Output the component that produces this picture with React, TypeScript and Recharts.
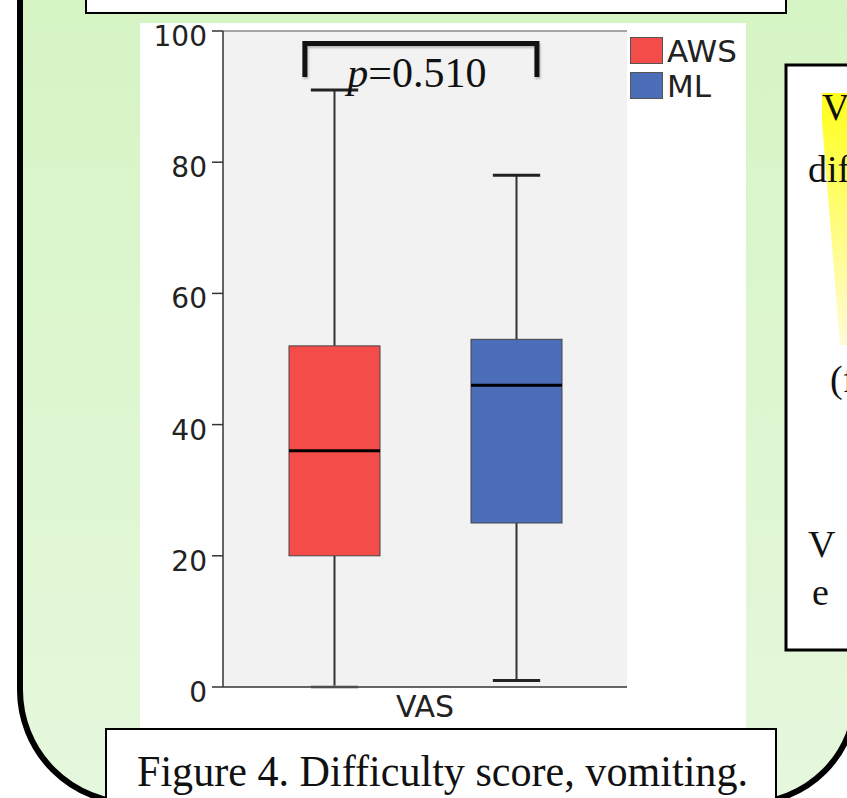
import React from "react";
import {
  ComposedChart,
  Bar,
  XAxis,
  YAxis,
  CartesianGrid,
  Legend,
  ReferenceLine,
} from "recharts";

// box plot statistics, one entry per group
const groups = ["AWS", "ML"];
const mins = [0, 1];
const q1s = [20, 25];
const medians = [36, 46];
const q3s = [52, 53];
const maxs = [91, 78];

const category = "VAS";
const yTicks = [0, 20, 40, 60, 80, 100];
const pValue = "0.510";

// significance bracket heights (VAS units): leg ends and top bar
const bracketLeg = 93;
const bracketTop = 98.1;

const figureCaption = "Figure 4. Difficulty score, vomiting.";
const sideText = ["V", "dif", "(f", "V", "e"];

const COLORS = ["#f44c48", "#4c6db7"];
const SANS = "'DejaVu Sans', Verdana, sans-serif";
const SERIF = "'Liberation Serif', 'Times New Roman', serif";

const data = groups.map((g, i) => ({ name: g, box: [mins[i], maxs[i]] }));

// draws whiskers, box and median from the bar's [min, max] geometry
const BoxShape = (props: any) => {
  const { x, y, width, height } = props;
  let g = groups.indexOf(props.payload?.name);
  if (g < 0) g = props.index ?? 0;
  const lo = mins[g];
  const hi = maxs[g];
  const py = (v: number) => y + (height * (hi - v)) / (hi - lo);
  const cx = x + width / 2;
  const cap = width * 0.26;
  return (
    <g>
      <line x1={cx} x2={cx} y1={py(maxs[g])} y2={py(q3s[g])} stroke="#333" strokeWidth={2} />
      <line x1={cx} x2={cx} y1={py(q1s[g])} y2={py(mins[g])} stroke="#333" strokeWidth={2} />
      <line x1={cx - cap} x2={cx + cap} y1={py(maxs[g])} y2={py(maxs[g])} stroke="#222" strokeWidth={3} />
      <line
        x1={cx - cap}
        x2={cx + cap}
        y1={py(mins[g])}
        y2={py(mins[g])}
        stroke={mins[g] === 0 ? "#9a9a9a" : "#222"}
        strokeWidth={3}
      />
      <rect
        x={x}
        y={py(q3s[g])}
        width={width}
        height={py(q1s[g]) - py(q3s[g])}
        fill={COLORS[g]}
        stroke="#444"
        strokeWidth={1}
      />
      <line x1={x} x2={x + width} y1={py(medians[g])} y2={py(medians[g])} stroke="#000" strokeWidth={3} />
    </g>
  );
};

// bracket between the two groups with the p value under it
const Bracket = (props: any) => {
  const { x1, y1, x2, y2 } = props;
  const span = x2 - x1;
  const left = x1 - span * 0.16;
  const right = x2 + span * 0.115;
  return (
    <g>
      <path
        d={`M ${left} ${y1} L ${left} ${y2} L ${right} ${y2} L ${right} ${y1}`}
        fill="none"
        stroke="#111"
        strokeWidth={5}
        style={{ filter: "drop-shadow(1px 2px 1px rgba(0,0,0,0.25))" }}
      />
      <text
        x={(x1 + x2) / 2 - span * 0.045}
        y={y1 + 10}
        textAnchor="middle"
        fontSize={42}
        fill="#111"
        fontFamily={SERIF}
      >
        <tspan fontStyle="italic">p</tspan>={pValue}
      </text>
    </g>
  );
};

const YTick = ({ x, y, payload }: any) => (
  <text x={x} y={y} dy={15} textAnchor="end" fontSize={28} fill="#222" fontFamily={SANS}>
    {payload.value}
  </text>
);

const XLabel = ({ viewBox }: any) => (
  <text
    x={viewBox.x + viewBox.width / 2}
    y={viewBox.y + 30}
    textAnchor="middle"
    fontSize={30}
    fill="#222"
    fontFamily={SANS}
  >
    {category}
  </text>
);

const LegendBox = () => (
  <div style={{ fontFamily: SANS }}>
    {groups.map((g, i) => (
      <div key={g} style={{ display: "flex", alignItems: "center", height: 35 }}>
        <div
          style={{
            width: 31,
            height: 25,
            background: COLORS[i],
            border: "1px solid #555",
            marginRight: 4,
          }}
        />
        <span style={{ fontSize: 31, color: "#222", lineHeight: "30px" }}>{g}</span>
      </div>
    ))}
  </div>
);

export default function App() {
  return (
    <div
      style={{
        position: "absolute",
        left: 0,
        top: 0,
        width: 847,
        height: 798,
        overflow: "hidden",
        background: "#fff",
      }}
    >
      {/* poster panel */}
      <svg width={847} height={798} style={{ position: "absolute", left: 0, top: 0 }}>
        <defs>
          <linearGradient id="panelGreen" x1="0" y1="0" x2="0" y2="1">
            <stop offset="0%" stopColor="#d5f4c3" />
            <stop offset="100%" stopColor="#e6f8dd" />
          </linearGradient>
        </defs>
        <path
          d="M 20 -20 L 20 690 A 113 113 0 0 0 133 803 L 748 803 A 108 108 0 0 0 856 695 L 856 -20 Z"
          fill="url(#panelGreen)"
          stroke="#000"
          strokeWidth={6}
        />
        <rect x={140} y={23} width={606} height={707} fill="#fff" />
      </svg>

      <div style={{ position: "absolute", left: 140, top: 13, width: 606, height: 717 }}>
        <ComposedChart
          width={606}
          height={717}
          data={data}
          margin={{ top: 18, right: 119, bottom: 0, left: 0 }}
          style={{ fontFamily: SANS }}
        >
          <CartesianGrid horizontal={false} vertical={false} fill="#f2f2f2" />
          <XAxis
            dataKey="name"
            height={43}
            padding={{ left: 20, right: 20 }}
            tick={false}
            tickLine={false}
            axisLine={{ stroke: "#333", strokeWidth: 1.5 }}
            label={<XLabel />}
          />
          <YAxis
            domain={[0, 100]}
            ticks={yTicks}
            interval={0}
            width={83}
            tickSize={11}
            tickMargin={5}
            axisLine={{ stroke: "#333", strokeWidth: 1.5 }}
            tickLine={{ stroke: "#333", strokeWidth: 1.5 }}
            tick={<YTick />}
          />
          <YAxis
            yAxisId="right"
            orientation="right"
            domain={[0, 100]}
            width={0}
            tick={false}
            tickLine={false}
            axisLine={{ stroke: "#8a8a8a", strokeWidth: 1.5 }}
          />
          <ReferenceLine y={100} stroke="#8a8a8a" strokeWidth={1.5} />
          <Bar dataKey="box" barSize={91} isAnimationActive={false} shape={<BoxShape />} />
          <ReferenceLine
            segment={[
              { x: groups[0], y: bracketLeg },
              { x: groups[1], y: bracketTop },
            ]}
            ifOverflow="visible"
            shape={<Bracket />}
          />
          <Legend
            layout="vertical"
            align="center"
            verticalAlign="middle"
            wrapperStyle={{ left: 490, top: 20, width: 120, height: 70 }}
            content={<LegendBox />}
          />
        </ComposedChart>
      </div>

      {/* surrounding poster boxes */}
      <svg
        width={847}
        height={798}
        style={{ position: "absolute", left: 0, top: 0, pointerEvents: "none" }}
      >
        <defs>
          <linearGradient id="hl" x1="0" y1="0" x2="0" y2="1">
            <stop offset="0%" stopColor="#ffff1a" />
            <stop offset="100%" stopColor="#fffbd8" />
          </linearGradient>
        </defs>
        <rect x={86} y={-10} width={700} height={23} fill="#fff" stroke="#000" strokeWidth={2} />

        <rect x={786} y={65} width={100} height={585} fill="#fff" stroke="#000" strokeWidth={3} />
        <polygon points="822,93 850,93 850,345 840,345 822,122" fill="url(#hl)" />
        <g fontFamily={SERIF} fontSize={38} fill="#111">
          <text x={822} y={120}>{sideText[0]}</text>
          <text x={808} y={182}>{sideText[1]}</text>
          <text x={830} y={392}>{sideText[2]}</text>
          <text x={808} y={557}>{sideText[3]}</text>
          <text x={812} y={605}>{sideText[4]}</text>
        </g>

        <rect x={106} y={729} width={670} height={80} fill="#fff" stroke="#000" strokeWidth={2} />
        <text
          x={137}
          y={786}
          fontFamily={SERIF}
          fontSize={44}
          fill="#111"
          textLength={611}
          lengthAdjust="spacingAndGlyphs"
        >
          {figureCaption}
        </text>
      </svg>
    </div>
  );
}
